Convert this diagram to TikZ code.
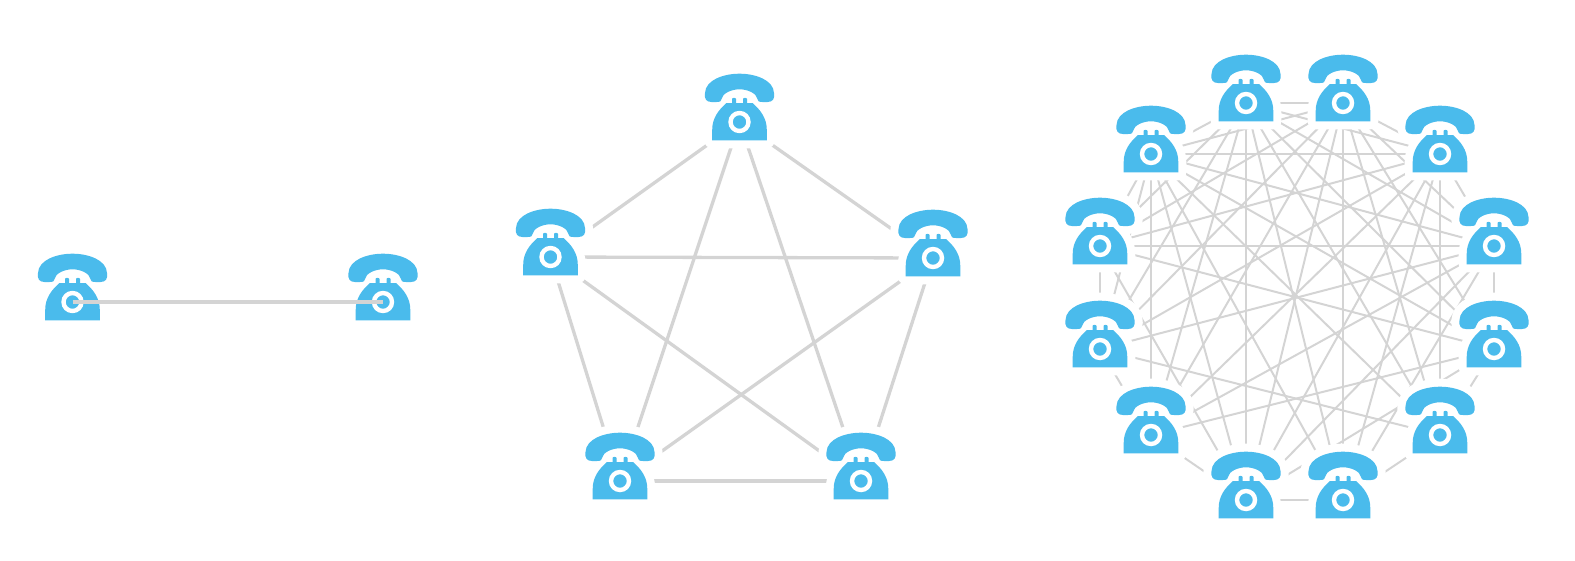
\documentclass[tikz,border=0pt]{standalone}
\usepackage{tikz}
\definecolor{phoneblue}{HTML}{4ABBEC}
\definecolor{wiregray}{HTML}{D4D4D4}
\tikzstyle{spot}=[circle, inner sep=0pt, minimum size=0pt]
\tikzstyle{wire}=[draw=wiregray, line width=3.3pt]
\tikzstyle{thin wire}=[draw=wiregray, line width=2pt]
\tikzset{
  handset path/.style={insert path={
    (-34.5,-29) .. controls (-34,-42) and (-16,-48.3) .. (0,-48.3)
    .. controls (16,-48.3) and (34,-42) .. (34.5,-29)
    .. controls (35.5,-23) and (33,-20) .. (28,-20) -- (23,-20)
    .. controls (19,-20) and (18,-21) .. (17.5,-24)
    .. controls (17,-28) and (9,-32.7) .. (0,-32.7)
    .. controls (-9,-32.7) and (-17,-28) .. (-17.5,-24)
    .. controls (-18,-21) and (-19,-20) .. (-23,-20) -- (-28,-20)
    .. controls (-33,-20) and (-35.5,-23) .. (-34.5,-29) -- cycle}},
  body path/.style={insert path={
    (-27.3,18.3) -- (-27.3,8) .. controls (-27.3,-4) and (-21,-12) .. (-13,-19)
    -- (-7.5,-19) -- (-7.5,-23) .. controls (-7.5,-24.5) and (-3.5,-24.5) .. (-3.5,-23)
    -- (-3.5,-19) -- (3.5,-19) -- (3.5,-23) .. controls (3.5,-24.5) and (7.5,-24.5) .. (7.5,-23)
    -- (7.5,-19) -- (13,-19)
    .. controls (21,-12) and (27.3,-4) .. (27.3,8) -- (27.3,18.3) -- cycle}},
  phone/.pic={
    \path[draw=white, line width=16pt, line join=round, handset path, body path];
    \path[fill=phoneblue, handset path, body path];
    \draw[white, line width=4.4pt] (0,0) circle (9);
  }
}

\begin{document}
\begin{tikzpicture}[x=1pt, y=-1pt]
\useasboundingbox (0,0) rectangle (1575,560);

% two phones
\node[spot] (a0) at (72.5, 302) {};
\node[spot] (a1) at (383, 302) {};

% five phones
\node[spot] (b0) at (739.5, 122) {};
\node[spot] (b1) at (933, 258) {};
\node[spot] (b2) at (861, 481) {};
\node[spot] (b3) at (620, 481) {};
\node[spot] (b4) at (550.5, 257) {};

% twelve phones
\node[spot] (c0) at (1246, 103) {};
\node[spot] (c1) at (1343, 103) {};
\node[spot] (c2) at (1440, 154) {};
\node[spot] (c3) at (1494, 246) {};
\node[spot] (c4) at (1494, 349) {};
\node[spot] (c5) at (1440, 435) {};
\node[spot] (c6) at (1343, 500) {};
\node[spot] (c7) at (1246, 500) {};
\node[spot] (c8) at (1151, 435) {};
\node[spot] (c9) at (1100, 349) {};
\node[spot] (c10) at (1100, 246) {};
\node[spot] (c11) at (1151, 154) {};

\draw[wire] (b0) -- (b1);
\draw[wire] (b0) -- (b2);
\draw[wire] (b0) -- (b3);
\draw[wire] (b0) -- (b4);
\draw[wire] (b1) -- (b2);
\draw[wire] (b1) -- (b3);
\draw[wire] (b1) -- (b4);
\draw[wire] (b2) -- (b3);
\draw[wire] (b2) -- (b4);
\draw[wire] (b3) -- (b4);

\foreach \i/\others in {0/{1,...,11}, 1/{2,...,11}, 2/{3,5,6,7,8,9,10,11},
    3/{4,6,7,8,9,10,11}, 4/{5,7,8,10,11}, 5/{6,9,11}, 6/{7,11},
    7/{8,10,11}, 8/{9,11}, 9/{10,11}, 10/{11}}
  \foreach \j in \others
    \draw[thin wire] (c\i) -- (c\j);

\foreach \n in {a0,a1,b0,b1,b2,b3,b4,c0,c1,c2,c3,c4,c5,c6,c7,c8,c9,c10,c11}
  \pic at (\n) {phone};

\draw[wire] (a0) -- (a1);
\end{tikzpicture}
\end{document}
